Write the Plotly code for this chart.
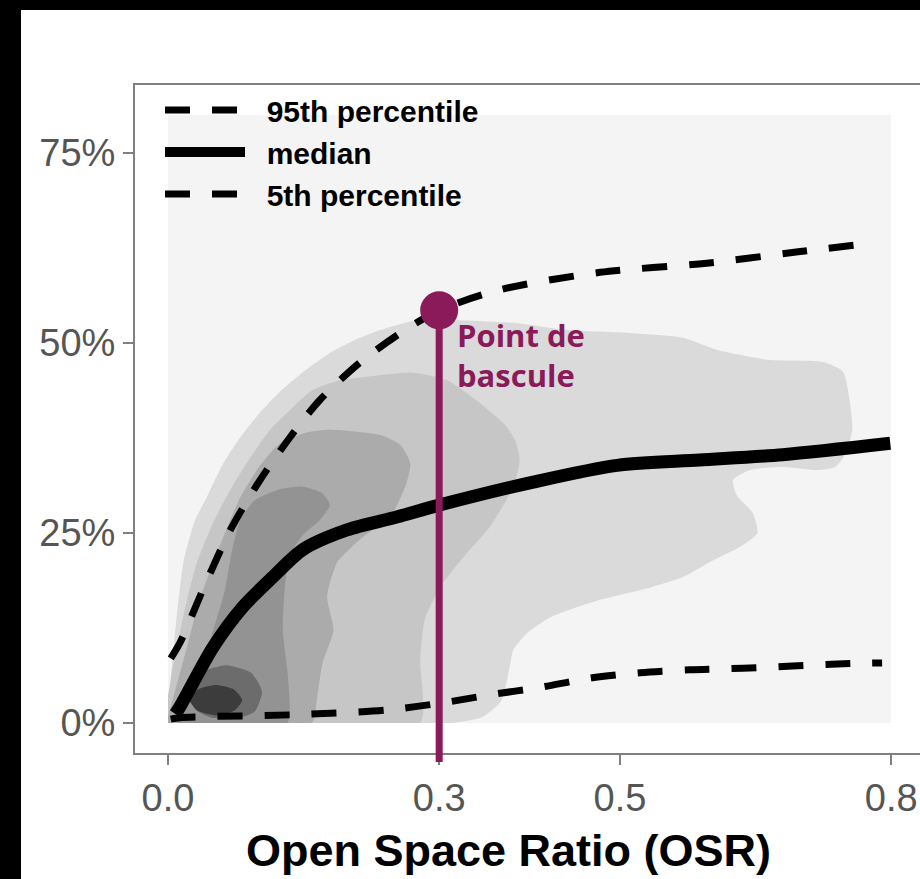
import plotly.graph_objects as go

# ---- quantile curves (OSR on x, share on y) ----
p95_x = [0.003, 0.013, 0.041, 0.069, 0.102, 0.135, 0.168, 0.212, 0.257, 0.300, 0.367, 0.478, 0.596, 0.697, 0.768]
p95_y = [0.085, 0.105, 0.182, 0.254, 0.320, 0.376, 0.425, 0.474, 0.513, 0.543, 0.570, 0.593, 0.605, 0.620, 0.630]

median_x = [0.008, 0.013, 0.050, 0.083, 0.116, 0.149, 0.198, 0.253, 0.301, 0.404, 0.497, 0.588, 0.680, 0.799]
median_y = [0.012, 0.021, 0.100, 0.153, 0.192, 0.228, 0.254, 0.271, 0.287, 0.317, 0.339, 0.346, 0.353, 0.368]

p5_x = [0.003, 0.013, 0.143, 0.242, 0.301, 0.356, 0.412, 0.467, 0.522, 0.577, 0.636, 0.691, 0.747, 0.790]
p5_y = [0.005, 0.007, 0.011, 0.017, 0.026, 0.037, 0.047, 0.059, 0.066, 0.070, 0.072, 0.075, 0.078, 0.079]

# ---- density bands (outline vertices, data units) ----
band0_x = [0.0, 0.8, 0.8, 0.0]
band0_y = [0.0, 0.0, 0.8, 0.8]

band1_x = [0.0, 0.002, 0.007, 0.017, 0.030, 0.043, 0.060, 0.080, 0.102, 0.124, 0.152, 0.179, 0.207, 0.235,
           0.275, 0.320, 0.386, 0.441, 0.514, 0.570, 0.607, 0.663, 0.725, 0.747, 0.754, 0.757, 0.749, 0.738,
           0.718, 0.680, 0.644, 0.625, 0.629, 0.647, 0.652, 0.633, 0.603, 0.570, 0.533, 0.478, 0.423, 0.397,
           0.382, 0.378, 0.369, 0.348, 0.312, 0.15]
band1_y = [0.0, 0.043, 0.109, 0.211, 0.267, 0.297, 0.339, 0.376, 0.409, 0.436, 0.464, 0.487, 0.504, 0.517,
           0.530, 0.530, 0.526, 0.517, 0.513, 0.507, 0.491, 0.478, 0.475, 0.462, 0.425, 0.386, 0.353, 0.337,
           0.333, 0.337, 0.333, 0.320, 0.300, 0.276, 0.250, 0.232, 0.214, 0.192, 0.178, 0.162, 0.139, 0.118,
           0.096, 0.074, 0.030, 0.008, 0.0, 0.0]

band2_x = [0.0, 0.003, 0.010, 0.021, 0.032, 0.049, 0.069, 0.091, 0.113, 0.135, 0.160, 0.190, 0.216, 0.271,
           0.309, 0.345, 0.373, 0.384, 0.389, 0.382, 0.356, 0.331, 0.301, 0.284, 0.279, 0.279, 0.14]
band2_y = [0.0, 0.057, 0.100, 0.162, 0.211, 0.261, 0.307, 0.349, 0.386, 0.412, 0.438, 0.451, 0.455, 0.461,
           0.451, 0.421, 0.392, 0.372, 0.346, 0.311, 0.258, 0.224, 0.179, 0.136, 0.083, 0.0, 0.0]

band3_x = [0.0, 0.002, 0.006, 0.021, 0.035, 0.050, 0.080, 0.102, 0.124, 0.152, 0.179, 0.235, 0.257, 0.268,
           0.264, 0.246, 0.216, 0.187, 0.176, 0.183, 0.171, 0.165, 0.159, 0.08]
band3_y = [0.0, 0.017, 0.034, 0.100, 0.162, 0.211, 0.297, 0.339, 0.368, 0.382, 0.386, 0.379, 0.366, 0.342,
           0.316, 0.271, 0.245, 0.211, 0.166, 0.122, 0.079, 0.034, 0.0, 0.0]

band4_x = [0.011, 0.019, 0.035, 0.050, 0.063, 0.071, 0.080, 0.096, 0.122, 0.149, 0.170, 0.179, 0.168, 0.149,
           0.135, 0.129, 0.127, 0.133, 0.132, 0.07]
band4_y = [0.0, 0.030, 0.070, 0.122, 0.175, 0.228, 0.267, 0.293, 0.307, 0.311, 0.303, 0.287, 0.267, 0.247,
           0.221, 0.175, 0.122, 0.057, 0.0, 0.0]

band5_x = [0.024, 0.036, 0.064, 0.092, 0.104, 0.096, 0.080, 0.048, 0.030]
band5_y = [0.041, 0.066, 0.076, 0.066, 0.041, 0.015, 0.007, 0.007, 0.018]

band6_x = [0.024, 0.033, 0.053, 0.073, 0.082, 0.073, 0.053, 0.033]
band6_y = [0.030, 0.044, 0.050, 0.044, 0.030, 0.016, 0.010, 0.016]

bands = [
    (band0_x, band0_y, "#f4f4f4", "linear"),
    (band1_x, band1_y, "#dadada", "spline"),
    (band2_x, band2_y, "#c6c6c6", "spline"),
    (band3_x, band3_y, "#ababab", "spline"),
    (band4_x, band4_y, "#939393", "spline"),
    (band5_x, band5_y, "#6c6c6c", "spline"),
    (band6_x, band6_y, "#3c3c3c", "spline"),
]

# ---- axes ----
x_range = [-0.0365, 0.8319]
y_range = [-0.0395, 0.8395]
x_ticks = [0.0, 0.3, 0.5, 0.8]
x_labels = ["0.0", "0.3", "0.5", "0.8"]
y_ticks = [0.0, 0.25, 0.5, 0.75]
y_labels = ["0%", "25%", "50%", "75%"]

tipping_x = 0.3
tipping_y = 0.543

PURPLE = "#8b1a5a"
GREY = "#808080"
SANS = "Liberation Sans, Arial, sans-serif"

fig = go.Figure()

for bx, by, col, shp in bands:
    fig.add_trace(go.Scatter(
        x=bx + [bx[0]], y=by + [by[0]], mode="lines", fill="toself", fillcolor=col,
        line=dict(width=0, color=col, shape=shp, smoothing=0.6),
        hoverinfo="skip", showlegend=False))

# white panel margin around the density domain (keeps smoothed bands inside it)
x0, x1 = x_range
y0, y1 = y_range
margin_x = [x0, x1, x1, x0, x0, None, x0, 0.0, 0.0, x0, x0, None, 0.8, x1, x1, 0.8, 0.8]
margin_y = [y0, y0, 0.0, 0.0, y0, None, 0.0, 0.0, y1, y1, 0.0, None, 0.0, 0.0, y1, y1, 0.0]
fig.add_trace(go.Scatter(
    x=margin_x, y=margin_y, mode="lines", fill="toself", fillcolor="white",
    line=dict(width=0, color="white"), hoverinfo="skip", showlegend=False))

fig.add_trace(go.Scatter(
    x=p95_x, y=p95_y, mode="lines", name="\u00a0\u00a095th percentile",
    line=dict(color="black", width=7, dash="25px,22px", shape="spline", smoothing=0.8)))
fig.add_trace(go.Scatter(
    x=median_x, y=median_y, mode="lines", name="\u00a0\u00a0median",
    line=dict(color="black", width=13, shape="spline", smoothing=0.8)))
fig.add_trace(go.Scatter(
    x=p5_x, y=p5_y, mode="lines", name="\u00a0\u00a05th percentile",
    line=dict(color="black", width=7, dash="25px,22px", shape="spline", smoothing=0.8)))

# tipping point marker
fig.add_trace(go.Scatter(
    x=[tipping_x], y=[tipping_y], mode="markers",
    marker=dict(size=38, color=PURPLE), showlegend=False, hoverinfo="skip", cliponaxis=False))

# plot geometry (pixels) used to place paper-referenced items
L, R, T, B = 135, 0, 85, 126
W, H = 920, 879
PW, PH = W - L - R, H - T - B


def px_x(p):
    return (p - L) / PW


def px_y(p):
    return (H - B - p) / PH


shapes = [
    # white sheet over the black page border
    dict(type="rect", xref="paper", yref="paper", x0=px_x(21), x1=px_x(940),
         y0=px_y(900), y1=px_y(10), fillcolor="white", line=dict(width=0), layer="below"),
    # tipping-point stem
    dict(type="line", xref="x", yref="paper", x0=tipping_x, x1=tipping_x,
         y0=px_y(762), y1=px_y(312), line=dict(color=PURPLE, width=7), layer="above"),
]

annotations = [
    dict(text="<b>Point de<br>bascule</b>", x=0.3175, y=0.484, xref="x", yref="y",
         xanchor="left", yanchor="middle", align="left", showarrow=False,
         font=dict(family="Open Sans, sans-serif", size=31, color=PURPLE)),
    dict(text="<b>Open Space Ratio (OSR)</b>", x=px_x(508), y=px_y(850), xref="paper", yref="paper",
         xanchor="center", yanchor="middle", showarrow=False,
         font=dict(family=SANS, size=45, color="black")),
]

fig.update_layout(
    width=W, height=H,
    margin=dict(l=L, r=R, t=T, b=B, pad=0, autoexpand=False),
    paper_bgcolor="black",
    plot_bgcolor="white",
    shapes=shapes,
    annotations=annotations,
    legend=dict(x=px_x(160), y=px_y(84), xanchor="left", yanchor="top",
                bgcolor="rgba(0,0,0,0)", itemwidth=80, tracegroupgap=0,
                font=dict(family=SANS, size=30, color="black", weight="bold")),
    xaxis=dict(range=x_range, tickvals=x_ticks, ticktext=x_labels,
               showgrid=False, zeroline=False, showline=True, mirror=True,
               linecolor=GREY, linewidth=2, ticks="outside", ticklen=10, tickwidth=2, tickcolor=GREY,
               tickfont=dict(family=SANS, size=38, color="#555555")),
    yaxis=dict(range=y_range, tickvals=y_ticks, ticktext=y_labels,
               showgrid=False, zeroline=False, showline=True, mirror=False,
               linecolor=GREY, linewidth=2, ticks="outside", ticklen=10, tickwidth=2, tickcolor=GREY,
               tickfont=dict(family=SANS, size=38, color="#555555")),
)

fig.write_html("out.html")
